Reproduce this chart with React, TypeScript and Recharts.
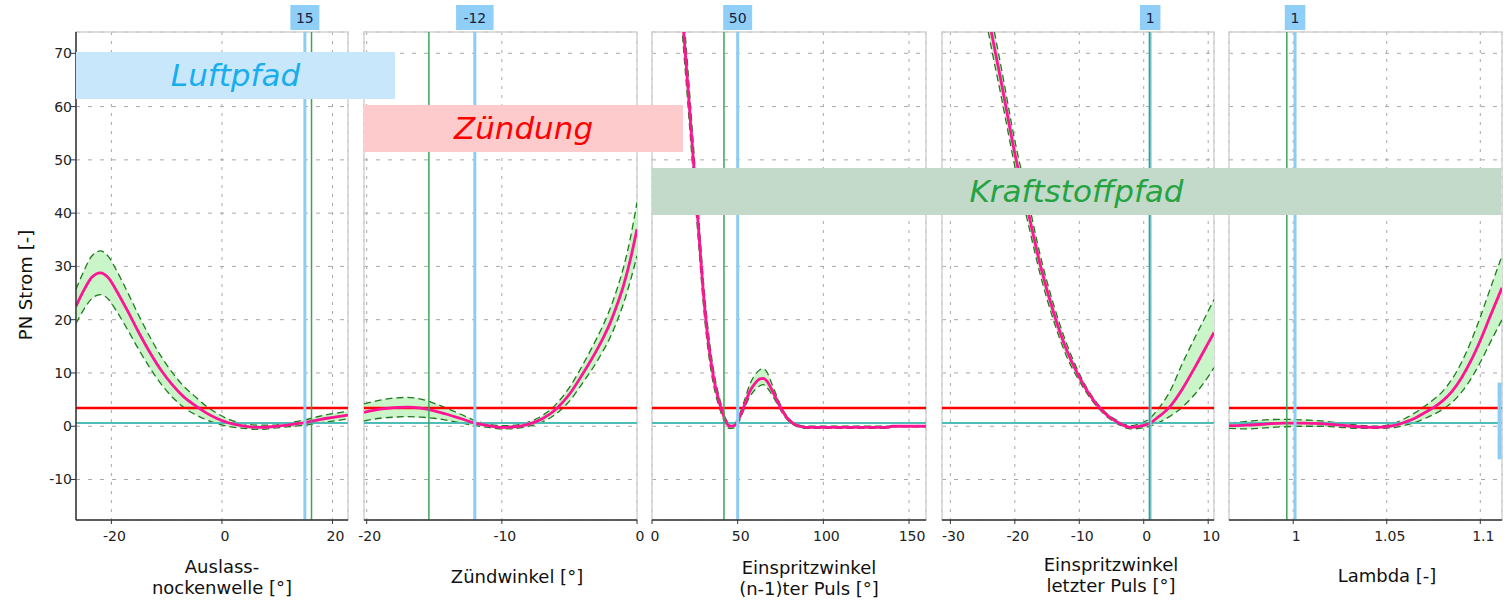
import {
  ComposedChart,
  Line,
  Area,
  XAxis,
  YAxis,
  CartesianGrid,
  ReferenceLine,
  ReferenceArea,
} from 'recharts'

// shared y axis (PN Strom)
const yDomain: [number, number] = [-17.6, 74]
const yTicks = [-10, 0, 10, 20, 30, 40, 50, 60, 70]
const upperLimit = 3.4
const lowerLimit = 0.6

// Auslassnockenwelle
const auslassX = [-26.4, -25, -23.5, -22, -20.5, -19, -17, -15, -13, -11, -9, -7, -5, -3, -1, 1, 3, 5, 7, 9, 11, 13, 15, 17, 19, 21, 22.8]
const auslassMean = [22.5, 25.5, 28.0, 28.8, 27.8, 25.3, 21.5, 17.5, 13.8, 10.5, 7.8, 5.6, 4.0, 2.6, 1.5, 0.7, 0.2, -0.1, -0.2, -0.1, 0.1, 0.4, 0.7, 1.1, 1.5, 1.8, 2.1]
const auslassHi = [25.7, 29.1, 32.0, 32.9, 31.8, 29.1, 25.0, 20.7, 16.7, 13.1, 10.1, 7.6, 5.7, 3.9, 2.5, 1.4, 0.7, 0.3, 0.2, 0.2, 0.4, 0.8, 1.2, 1.7, 2.2, 2.5, 2.8]
const auslassLo = [19.3, 21.9, 24.0, 24.7, 23.8, 21.5, 18.0, 14.3, 10.9, 7.9, 5.5, 3.6, 2.3, 1.3, 0.5, 0.0, -0.3, -0.5, -0.6, -0.4, -0.2, 0.0, 0.2, 0.5, 0.8, 1.1, 1.4]
const auslassTicks = [-20, 0, 20]

// Zündwinkel
const zuendX = [-20.2, -19, -18, -17, -16, -15, -14, -13, -12, -11, -10, -9, -8, -7, -6, -5, -4, -3, -2.5, -2, -1.5, -1, -0.5, 0]
const zuendMean = [2.6, 3.2, 3.5, 3.6, 3.4, 2.9, 2.2, 1.4, 0.6, 0.1, -0.2, -0.1, 0.4, 1.4, 3.2, 6.0, 9.9, 14.2, 16.6, 19.3, 22.6, 26.4, 31.2, 37]
const zuendHi = [4.2, 4.9, 5.3, 5.4, 5.1, 4.3, 3.3, 2.2, 1.1, 0.4, 0.1, 0.2, 0.8, 2.0, 4.1, 7.3, 11.6, 16.4, 19.0, 22.0, 25.6, 29.8, 35.2, 42]
const zuendLo = [1.0, 1.5, 1.7, 1.8, 1.7, 1.5, 1.1, 0.6, 0.1, -0.2, -0.5, -0.4, 0.0, 0.8, 2.3, 4.7, 8.2, 12.0, 14.2, 16.6, 19.6, 23.0, 27.2, 32]
const zuendTicks = [-20, -10, 0]

// Einspritzwinkel (n-1)ter Puls
const einN1X = [5, 10, 15, 18, 21, 24, 27, 30, 33, 36, 39, 42, 45, 48, 51, 54, 57, 60, 63, 65, 67, 70, 73, 76, 79, 82, 86, 90, 100, 110, 120, 130, 138, 140, 150, 159.9]
const einN1Mean = [135, 110, 89, 76, 63.5, 50.5, 37.8, 25.0, 15.5, 9.0, 4.8, 1.8, 0.0, 0.1, 1.6, 4.0, 6.5, 8.0, 8.9, 9.0, 8.5, 6.8, 4.8, 2.9, 1.5, 0.6, 0.0, -0.2, -0.2, -0.2, -0.2, -0.2, -0.2, 0.0, 0.0, 0.0]
const einN1Hi = [139, 114, 93, 79.5, 66.8, 53.5, 40.5, 27.3, 17.4, 10.4, 5.8, 2.5, 0.4, 0.5, 2.2, 4.9, 7.8, 9.6, 10.6, 10.8, 10.2, 7.9, 5.5, 3.3, 1.8, 0.8, 0.2, 0.0, 0.0, 0.0, 0.0, 0.0, 0.0, 0.1, 0.1, 0.1]
const einN1Lo = [131, 106, 85, 72.5, 60.2, 47.5, 35.1, 22.7, 13.6, 7.6, 3.8, 1.1, -0.4, -0.3, 1.0, 3.4, 5.5, 6.8, 7.6, 7.8, 7.3, 5.9, 4.2, 2.5, 1.2, 0.4, -0.2, -0.4, -0.4, -0.4, -0.4, -0.4, -0.4, -0.1, -0.1, -0.1]
const einN1Ticks = [0, 50, 100, 150]

// Einspritzwinkel letzter Puls
const einLX = [-31.3, -28, -26, -24, -22, -20, -18, -16, -14, -12, -10, -8, -6, -4, -2, 0, 1, 2, 4, 6, 8, 10, 10.9]
const einLMean = [128, 104, 90, 76.3, 63.9, 51.2, 40.6, 30.0, 21.4, 14.4, 9.2, 5.2, 2.4, 0.7, -0.2, 0.15, 0.6, 1.5, 3.6, 7.0, 11.2, 15.6, 17.6]
const einLHi = [131, 107, 93, 79.3, 66.6, 53.6, 42.8, 31.8, 22.9, 15.6, 9.9, 5.6, 2.7, 1.0, 0.1, 0.8, 1.5, 2.9, 6.4, 11.8, 16.8, 21.6, 23.8]
const einLLo = [125, 101, 87, 73.3, 61.2, 48.8, 38.4, 28.2, 19.9, 13.2, 8.5, 4.8, 2.1, 0.4, -0.5, -0.3, 0.0, 0.5, 1.8, 3.6, 6.1, 9.3, 11.0]
const einLTicks = [-30, -20, -10, 0, 10]

// Lambda
const lambdaX = [0.9657, 0.975, 0.985, 0.995, 1.005, 1.015, 1.025, 1.035, 1.045, 1.055, 1.06, 1.065, 1.07, 1.075, 1.08, 1.085, 1.09, 1.095, 1.1, 1.105, 1.1116]
const lambdaMean = [0.1, 0.2, 0.4, 0.6, 0.6, 0.5, 0.2, -0.1, -0.2, 0.2, 0.8, 1.5, 2.5, 3.5, 4.8, 6.6, 9.1, 12.3, 16.1, 20.4, 26.0]
const lambdaHi = [0.6, 0.9, 1.2, 1.3, 1.2, 1.0, 0.6, 0.2, 0.0, 0.7, 1.5, 2.5, 3.7, 5.0, 6.6, 8.9, 12.0, 15.9, 20.5, 25.5, 32]
const lambdaLo = [-0.4, -0.5, -0.3, -0.1, 0.0, 0.0, -0.2, -0.4, -0.4, -0.2, 0.2, 0.7, 1.4, 2.2, 3.2, 4.5, 6.4, 8.9, 12.0, 15.5, 20]
const lambdaTicks = [1, 1.05, 1.1]

const MAGENTA = '#ff1493'
const BAND = '#c9f5c9'
const BAND_EDGE = '#1f7a1f'
const CURSOR_BLUE = '#8ccdf5'
const CURSOR_GREEN = '#3ca55c'

type PanelCfg = {
  x: number[]
  mean: number[]
  hi: number[]
  lo: number[]
  domain: [number, number]
  ticks: number[]
  cursor: number
  cursorLabel: string
  marker: number
  left: number
  width: number
  ml: number
  mr: number
  showY?: boolean
  sideBar?: { x: number; y1: number; y2: number }
}

const panels: PanelCfg[] = [
  { x: auslassX, mean: auslassMean, hi: auslassHi, lo: auslassLo, domain: [-26.4, 22.8], ticks: auslassTicks, cursor: 15, cursorLabel: '15', marker: 16.2, left: 0, width: 364, ml: 0, mr: 16, showY: true },
  { x: zuendX, mean: zuendMean, hi: zuendHi, lo: zuendLo, domain: [-20.2, 0], ticks: zuendTicks, cursor: -12, cursorLabel: '-12', marker: -15.4, left: 348, width: 305, ml: 16, mr: 16 },
  { x: einN1X, mean: einN1Mean, hi: einN1Hi, lo: einN1Lo, domain: [0, 159.9], ticks: einN1Ticks, cursor: 50, cursorLabel: '50', marker: 42, left: 636, width: 306, ml: 16, mr: 16 },
  { x: einLX, mean: einLMean, hi: einLHi, lo: einLLo, domain: [-31.3, 10.9], ticks: einLTicks, cursor: 1, cursorLabel: '1', marker: 0.9, left: 926, width: 304, ml: 16, mr: 16 },
  { x: lambdaX, mean: lambdaMean, hi: lambdaHi, lo: lambdaLo, domain: [0.9657, 1.1116], ticks: lambdaTicks, cursor: 1.001, cursorLabel: '1', marker: 0.9966, left: 1213, width: 297, ml: 16, mr: 8, sideBar: { x: 1.1103, y1: 8.2, y2: -6.2 } },
]

const annotations = [
  { text: 'Luftpfad', left: 76, top: 52, width: 319, bg: '#c9e7fb', color: '#17adef' },
  { text: 'Zündung', left: 364, top: 105, width: 319, bg: '#fdcbcb', color: '#ff0000' },
  { text: 'Kraftstoffpfad', left: 652, top: 168, width: 849, bg: '#c3d9c9', color: '#24a340' },
]

const axisTitles = [
  { lines: ['Auslass-', 'nockenwelle [°]'], cx: 222, top: 556 },
  { lines: ['Zündwinkel [°]'], cx: 517, top: 566 },
  { lines: ['Einspritzwinkel', '(n-1)ter Puls [°]'], cx: 809, top: 557 },
  { lines: ['Einspritzwinkel', 'letzter Puls [°]'], cx: 1111, top: 554 },
  { lines: ['Lambda [-]'], cx: 1387, top: 565 },
]

function ValueTag(props: any) {
  const { viewBox, text } = props
  if (!viewBox) return null
  const cx = viewBox.x
  const top = viewBox.y
  const w = 12 + text.length * 8.5
  return (
    <g>
      <rect x={cx - w / 2} y={top - 27} width={w} height={25} fill="#8ecef7" />
      <text x={cx} y={top - 9.5} textAnchor="middle" fontSize={14} fill="#1c1c3c" fontFamily="DejaVu Sans">
        {text}
      </text>
    </g>
  )
}

function XTick(props: any) {
  const { x, y, payload } = props
  return (
    <text x={x + 3} y={y} dy="0.71em" textAnchor="middle" fontSize={14} fill="#222" fontFamily="DejaVu Sans">
      {payload.value}
    </text>
  )
}

function Panel({ cfg }: { cfg: PanelCfg }) {
  const data = cfg.x.map((x, i) => ({
    x,
    mean: cfg.mean[i],
    hi: cfg.hi[i],
    lo: cfg.lo[i],
    band: [cfg.lo[i], cfg.hi[i]],
  }))
  return (
    <div style={{ position: 'absolute', left: cfg.left, top: 0 }}>
      <ComposedChart
        width={cfg.width}
        height={561}
        data={data}
        margin={{ top: 32, right: cfg.mr, bottom: 0, left: cfg.ml }}
      >
        <CartesianGrid horizontal vertical={false} strokeDasharray="4 8" stroke="#a8a8a8" />
        <CartesianGrid horizontal={false} vertical strokeDasharray="3 6" stroke="#a8a8a8" />
        <ReferenceArea
          x1={cfg.domain[0]}
          x2={cfg.domain[1]}
          y1={yDomain[0]}
          y2={yDomain[1]}
          fill="none"
          stroke="#d2d2d2"
          strokeWidth={1.5}
        />
        <XAxis
          type="number"
          dataKey="x"
          domain={cfg.domain}
          ticks={cfg.ticks}
          allowDataOverflow
          interval={0}
          height={41}
          tickSize={4}
          tickMargin={7}
          tick={<XTick />}
          axisLine={{ stroke: '#333', strokeWidth: 1.5 }}
          tickLine={{ stroke: '#333' }}
        />
        <YAxis
          type="number"
          domain={yDomain}
          ticks={yTicks}
          allowDataOverflow
          interval={0}
          hide={!cfg.showY}
          width={76}
          tickSize={5}
          tickMargin={-1}
          tick={{ fontSize: 14, fill: '#222', fontFamily: 'DejaVu Sans' }}
          axisLine={{ stroke: '#333', strokeWidth: 1.5 }}
          tickLine={{ stroke: '#333' }}
        />
        <Area dataKey="band" type="monotone" fill={BAND} fillOpacity={1} stroke="none" isAnimationActive={false} />
        <Line dataKey="hi" type="monotone" stroke={BAND_EDGE} strokeWidth={1.3} strokeDasharray="7 4" dot={false} isAnimationActive={false} />
        <Line dataKey="lo" type="monotone" stroke={BAND_EDGE} strokeWidth={1.3} strokeDasharray="7 4" dot={false} isAnimationActive={false} />
        <ReferenceLine y={lowerLimit} stroke="#4dbdb5" strokeWidth={2} />
        <ReferenceLine y={upperLimit} stroke="#ff0000" strokeWidth={2.5} />
        <Line dataKey="mean" type="monotone" stroke={MAGENTA} strokeWidth={2.8} dot={false} isAnimationActive={false} />
        <ReferenceLine x={cfg.cursor} stroke={CURSOR_BLUE} strokeWidth={3} label={<ValueTag text={cfg.cursorLabel} />} />
        <ReferenceLine x={cfg.marker} stroke={CURSOR_GREEN} strokeWidth={1.5} />
        {cfg.sideBar && (
          <ReferenceLine
            segment={[
              { x: cfg.sideBar.x, y: cfg.sideBar.y1 },
              { x: cfg.sideBar.x, y: cfg.sideBar.y2 },
            ]}
            stroke={CURSOR_BLUE}
            strokeWidth={4}
          />
        )}
      </ComposedChart>
    </div>
  )
}

export default function App() {
  return (
    <div
      style={{
        position: 'absolute',
        left: 0,
        top: 0,
        width: 1511,
        height: 601,
        overflow: 'hidden',
        background: '#fff',
        fontFamily: 'DejaVu Sans',
      }}
    >
      {panels.map((p, i) => (
        <Panel key={i} cfg={p} />
      ))}
      {annotations.map((a) => (
        <div
          key={a.text}
          style={{
            position: 'absolute',
            left: a.left,
            top: a.top,
            width: a.width,
            height: 47,
            lineHeight: '47px',
            background: a.bg,
            color: a.color,
            fontSize: 31,
            fontStyle: 'italic',
            textAlign: 'center',
          }}
        >
          {a.text}
        </div>
      ))}
      {axisTitles.map((t, i) => (
        <div
          key={i}
          style={{
            position: 'absolute',
            left: t.cx - 150,
            top: t.top,
            width: 300,
            textAlign: 'center',
            fontSize: 18,
            lineHeight: '21px',
            color: '#111',
          }}
        >
          {t.lines.map((l) => (
            <div key={l}>{l}</div>
          ))}
        </div>
      ))}
      <div
        style={{
          position: 'absolute',
          left: 26 - 80,
          top: 285 - 11,
          width: 160,
          height: 22,
          lineHeight: '22px',
          textAlign: 'center',
          fontSize: 18,
          color: '#111',
          transform: 'rotate(-90deg)',
        }}
      >
        PN Strom [-]
      </div>
    </div>
  )
}
